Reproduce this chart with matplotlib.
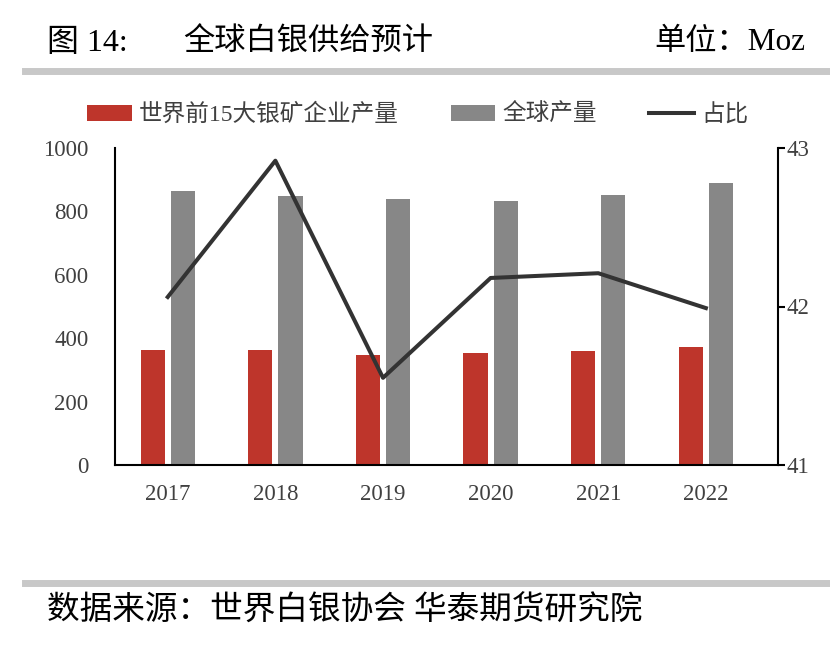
import matplotlib
matplotlib.use("Agg")
import matplotlib.pyplot as plt
import numpy as np

plt.rcParams['font.family'] = ['Liberation Serif', 'Noto Sans CJK SC', 'DejaVu Sans']

years = ['2017', '2018', '2019', '2020', '2021', '2022']
top15 = [363, 363, 347, 353, 360, 372]
world = [864, 849, 838, 833, 852, 890]
share = [42.06, 42.92, 41.55, 42.18, 42.21, 41.99]
left_ticks = [0, 200, 400, 600, 800, 1000]
right_ticks = [41, 42, 43]

red = '#BE352B'
gray = '#878787'
linec = '#333333'
txtc = '#404040'

fig = plt.figure(figsize=(8.3, 6.48), dpi=100)
ax = fig.add_axes([115/830, 1-465/648, (778-115)/830, (465-148)/648])
x = np.arange(len(years))
w = 0.225
ax.bar(x - 0.14, top15, width=w, color=red, label='世界前15大银矿企业产量', zorder=2)
ax.bar(x + 0.14, world, width=w, color=gray, label='全球产量', zorder=2)
ax.set_xlim(-0.49, 5.67)
ax.set_ylim(0, 1000)
ax.set_yticks(left_ticks)
ax.set_yticklabels([str(t) for t in left_ticks], fontsize=16.5, color=txtc)
ax.set_xticks(x)
ax.set_xticklabels(years, fontsize=16.5, color=txtc)
ax.tick_params(axis='y', length=0, pad=19)
ax.tick_params(axis='x', length=0, pad=14)
for s in ['top', 'right']:
    ax.spines[s].set_visible(False)
ax.spines['left'].set_linewidth(1.5)
ax.spines['bottom'].set_linewidth(1.5)

ax2 = ax.twinx()
ax2.plot(x, share, color=linec, lw=2.9, label='占比', zorder=3)
ax2.set_ylim(41, 43)
ax2.set_yticks(right_ticks)
ax2.set_yticklabels([str(t) for t in right_ticks], fontsize=16.5, color=txtc)
ax2.tick_params(axis='y', length=5, width=1.5, direction='out', pad=1)
for s in ['top', 'left', 'bottom']:
    ax2.spines[s].set_visible(False)
ax2.spines['right'].set_linewidth(1.5)

h1, l1 = ax.get_legend_handles_labels()
h2, l2 = ax2.get_legend_handles_labels()
fig.legend(h1 + h2, l1 + l2, loc='center', bbox_to_anchor=(0.503, 1-115/648), ncol=3,
           frameon=False, fontsize=17, handlelength=1.9, handleheight=0.65,
           columnspacing=2.2, handletextpad=0.3, labelcolor=txtc)

fig.text(47/830, 1-43/648, '图 14:', fontsize=23, va='center', ha='left')
fig.text(183/830, 1-43/648, '全球白银供给预计', fontsize=22.5, va='center', ha='left')
fig.text(805/830, 1-43/648, '单位：Moz', fontsize=22.5, va='center', ha='right')
fig.add_artist(plt.Line2D([25/830, 1], [1-71/648, 1-71/648], color='#C8C8C8', lw=5))
fig.add_artist(plt.Line2D([25/830, 1], [1-583/648, 1-583/648], color='#C8C8C8', lw=5))
fig.text(47/830, 1-611/648, '数据来源：世界白银协会 华泰期货研究院', fontsize=23.5, va='center', ha='left')

fig.savefig('out.png', dpi=100)
